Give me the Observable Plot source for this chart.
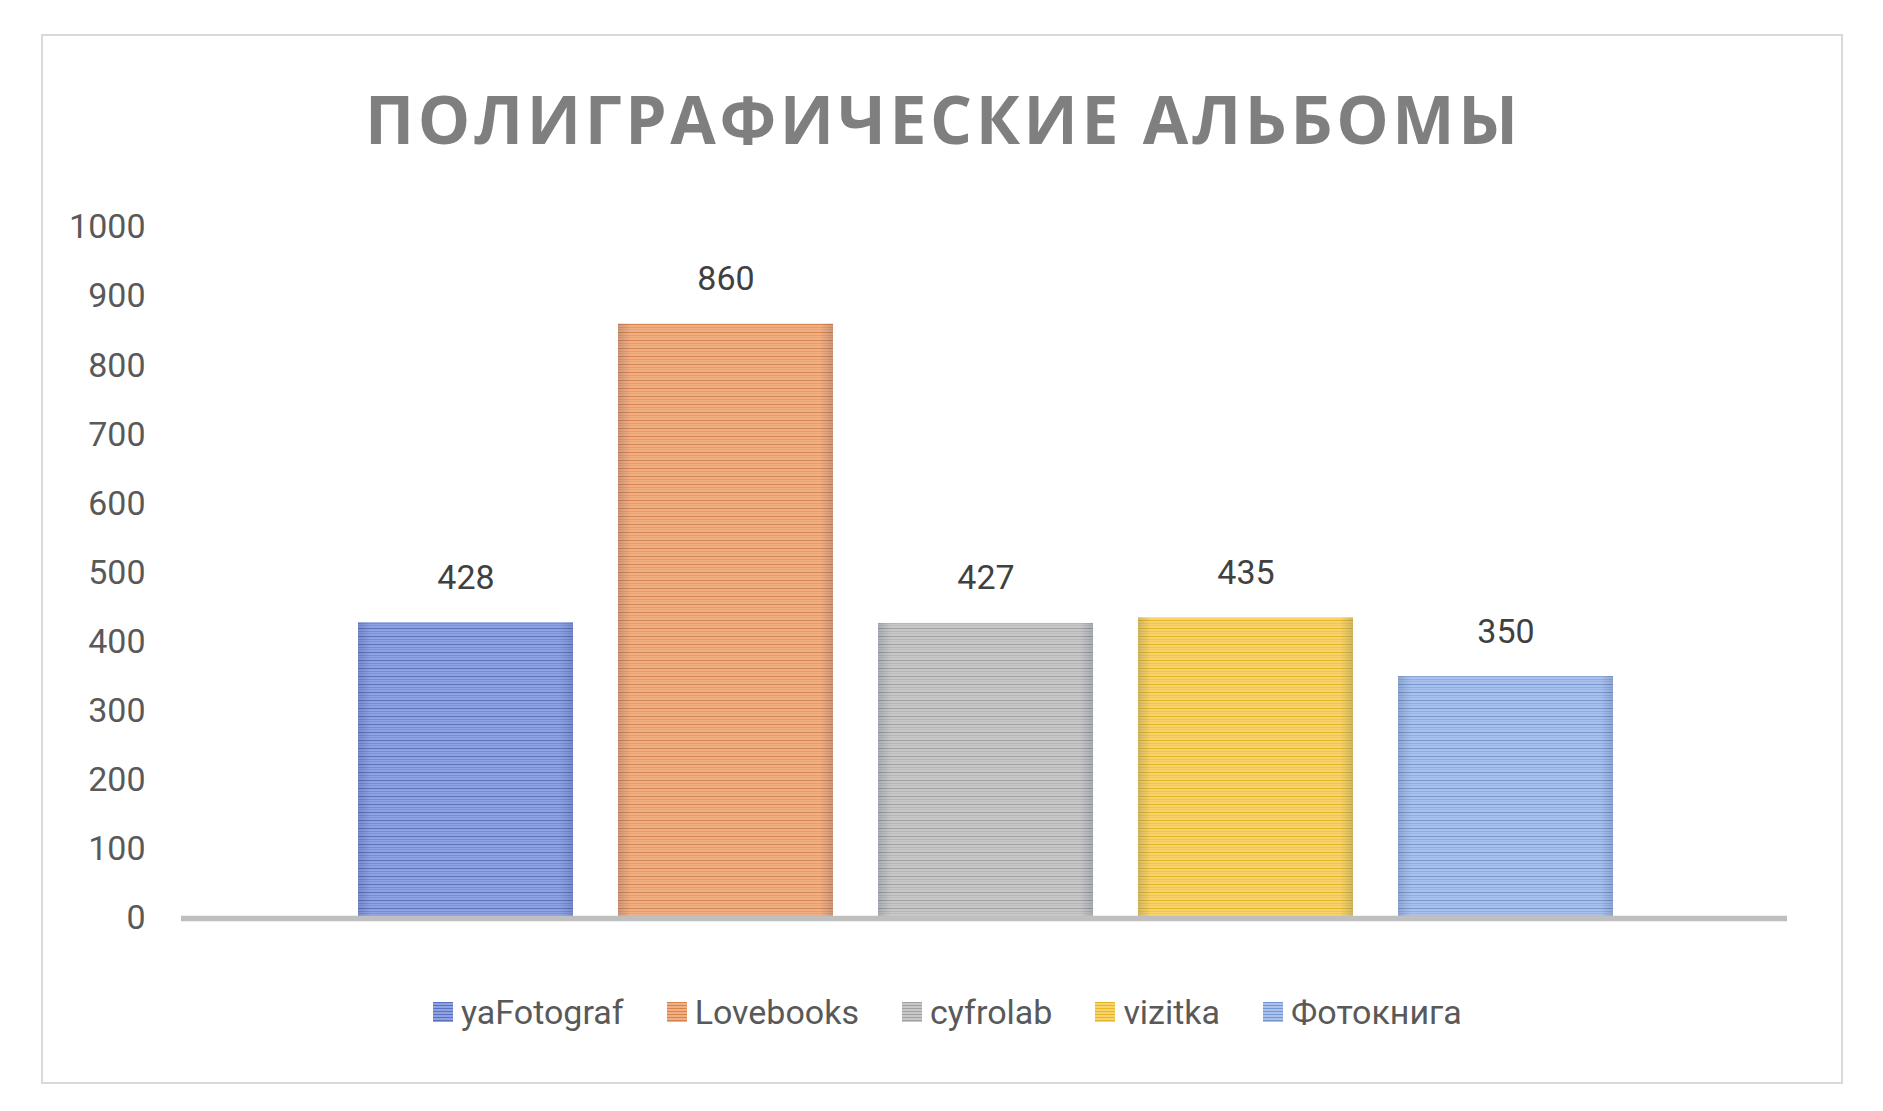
<!DOCTYPE html>
<html>
<head>
<meta charset="utf-8">
<script src="https://cdn.jsdelivr.net/npm/d3@7"></script>
<script src="https://cdn.jsdelivr.net/npm/@observablehq/plot@0.6"></script>
<style>
  html, body { margin: 0; padding: 0; background: #fff; }
  #page { position: relative; width: 1883px; height: 1111px; background: #fff; overflow: hidden; }
  #frame { position: absolute; left: 41px; top: 34px; width: 1798px; height: 1046px; border: 2px solid #d9d9d9; }
  #title { position: absolute; left: 0; width: 1883px; top: 75px; text-align: center;
           font-family: "Open Sans", sans-serif; font-weight: 700; font-size: 66px; line-height: 86px;
           color: #7f7f7f; white-space: nowrap; }
  #chart { position: absolute; left: 0; top: 180px; }
  #legend { position: absolute; left: 433px; top: 990px; display: flex; align-items: center;
            font-family: Roboto, sans-serif; font-size: 34px; color: #595959; white-space: nowrap; height: 44px; }
  .item { display: flex; align-items: center; margin-right: 43px; }
  .sw { width: 20px; height: 20px; margin-right: 8px; }
</style>
</head>
<body>
<div id="page">
  <div id="frame"></div>
  <div id="title"></div>
  <div id="chart"></div>
  <div id="legend"></div>
</div>
<script>
// ---- data ----
const titleText = "ПОЛИГРАФИЧЕСКИЕ АЛЬБОМЫ";
const names = ["yaFotograf", "Lovebooks", "cyfrolab", "vizitka", "Фотокнига"];
const values = [428, 860, 427, 435, 350];
const yTicks = [0, 100, 200, 300, 400, 500, 600, 700, 800, 900, 1000];

// ---- styles ----
const baseColors = ["#8ea1e1", "#f1b084", "#c8c8c8", "#f8d468", "#a9c1ec"];
const lineColors = ["#5b71c2", "#d9834c", "#a0a0a0", "#e6b52e", "#7696d0"];

const data = names.map((name, i) => ({name, value: values[i], idx: i}));

// title
const titleEl = document.getElementById("title");
titleEl.textContent = titleText;
(function() {
  const c = document.createElement("canvas").getContext("2d");
  c.font = "700 66px 'Open Sans'";
  const w = c.measureText(titleText).width;
  const ls = (1153 - w) / (titleText.length - 1);
  titleEl.style.letterSpacing = ls + "px";
  titleEl.style.textIndent = ls + "px";
})();

const W = 1883, H = 780;
const plot = Plot.plot({
  width: W,
  height: H,
  marginLeft: 181,
  marginRight: 96,
  marginTop: 47,
  marginBottom: 42,
  x: {domain: names, range: [311, 1659], padding: 0.175, axis: null},
  y: {domain: [0, 1000], ticks: yTicks, label: null},
  color: {type: "identity"},
  style: {fontFamily: "Roboto, sans-serif", fontSize: "34px", color: "#595959", background: "transparent", overflow: "visible"},
  marks: [
    Plot.axisY(yTicks, {tickSize: 0, tickPadding: 36, fontSize: 34, fill: "#595959", label: null, tickFormat: d => String(d)}),
    Plot.barY(data, {x: "name", y: "value", fill: d => `url(#pat${d.idx})`}),
    Plot.barY(data, {x: "name", y: "value", fill: "url(#edge)"}),
    Plot.ruleY([0], {stroke: "#bfbfbf", strokeWidth: 5.5}),
    Plot.text(data, {x: "name", y: "value", text: d => String(d.value), dy: -45, fontSize: 34, fill: "#404040"})
  ]
});

// add pattern defs
const ns = "http://www.w3.org/2000/svg";
const defs = document.createElementNS(ns, "defs");
baseColors.forEach((bc, i) => {
  const p = document.createElementNS(ns, "pattern");
  p.setAttribute("id", "pat" + i);
  p.setAttribute("patternUnits", "userSpaceOnUse");
  p.setAttribute("width", "10");
  p.setAttribute("height", "8");
  const r = document.createElementNS(ns, "rect");
  r.setAttribute("width", "10"); r.setAttribute("height", "8"); r.setAttribute("fill", bc);
  p.appendChild(r);
  [[0, 1, 1], [3, 1, 0.45], [5, 1, 0.3]].forEach(([y, h, o]) => {
    const l = document.createElementNS(ns, "rect");
    l.setAttribute("y", y); l.setAttribute("width", "10"); l.setAttribute("height", h);
    l.setAttribute("fill", lineColors[i]); l.setAttribute("fill-opacity", o);
    p.appendChild(l);
  });
  defs.appendChild(p);
});
const g = document.createElementNS(ns, "linearGradient");
g.setAttribute("id", "edge");
[[0, 0.18], [0.06, 0], [0.94, 0], [1, 0.18]].forEach(([off, op]) => {
  const s = document.createElementNS(ns, "stop");
  s.setAttribute("offset", off);
  s.setAttribute("stop-color", "#203060");
  s.setAttribute("stop-opacity", op);
  g.appendChild(s);
});
defs.appendChild(g);
plot.insertBefore(defs, plot.firstChild);
document.getElementById("chart").appendChild(plot);

// legend
const legend = document.getElementById("legend");
names.forEach((n, i) => {
  const it = document.createElement("div");
  it.className = "item";
  const sw = document.createElement("div");
  sw.className = "sw";
  sw.style.background = `repeating-linear-gradient(to bottom, ${lineColors[i]} 0px, ${lineColors[i]} 1px, ${baseColors[i]} 1px, ${baseColors[i]} 3px)`;
  const t = document.createElement("span");
  t.textContent = n;
  it.appendChild(sw); it.appendChild(t);
  legend.appendChild(it);
});
</script>
</body>
</html>
